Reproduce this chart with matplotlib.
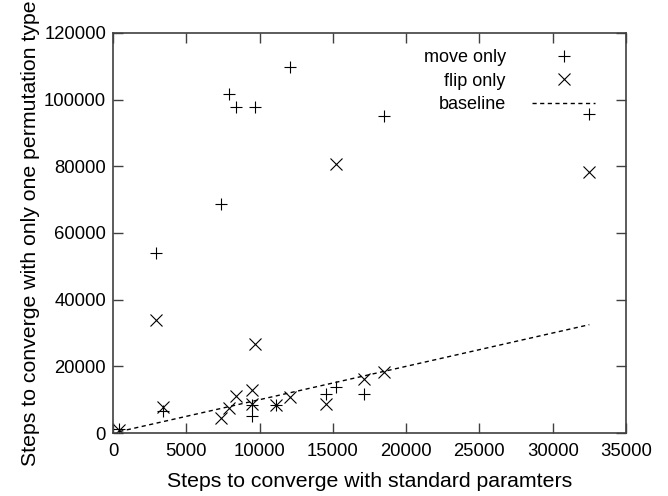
import matplotlib
matplotlib.use("Agg")
import matplotlib.pyplot as plt

# steps with standard parameters (one entry per run)
standard = [430, 2950, 3400, 7400, 7900, 8400, 9500, 9500, 9700, 11100, 12100, 14500, 15200, 17100, 18500, 32500]
move_only = [1100, 54000, 6500, 68600, 101700, 97700, 5100, 8400, 97700, 8400, 109700, 11700, 13900, 11700, 95200, 95600]
flip_only = [1000, 33800, 7900, 4400, 7400, 11200, 12900, 8600, 26800, 8400, 10700, 8700, 80700, 16300, 18200, 78300]
xticks = [0, 5000, 10000, 15000, 20000, 25000, 30000, 35000]
yticks = [0, 20000, 40000, 60000, 80000, 100000, 120000]

plt.rcParams["font.family"] = ["Liberation Sans", "DejaVu Sans"]

fig = plt.figure(figsize=(6.68, 4.96), dpi=100)
ax = fig.add_axes([0.1692, 0.127, 0.7679, 0.8065])

ax.plot(standard, move_only, linestyle="none", marker="+", markersize=8.6,
        markeredgewidth=0.8, color="black", label="move only")
ax.plot(standard, flip_only, linestyle="none", marker="x", markersize=8.6,
        markeredgewidth=0.8, color="black", label="flip only")
base = sorted(standard)
ax.plot([base[0], base[-1]], [base[0], base[-1]], color="black", linewidth=1.0,
        dashes=(3, 2.5), label="baseline")

ax.set_xlim(0, 35000)
ax.set_ylim(0, 120000)
ax.set_xticks(xticks)
ax.set_yticks(yticks)
ax.tick_params(direction="in", length=7, width=1.0, color="#404040", labelsize=13.3,
               top=True, right=True)
ax.tick_params(axis="x", pad=7)
ax.tick_params(axis="y", pad=5)
for s in ax.spines.values():
    s.set_color("#404040")
    s.set_linewidth(1.2)

ax.set_xlabel("Steps to converge with standard paramters", fontsize=15.3, labelpad=9)
ax.set_ylabel("Steps to converge with only one permutation type", fontsize=15.3, labelpad=3)

ax.legend(loc="upper right", bbox_to_anchor=(0.94, 0.96), frameon=False,
          markerfirst=False, fontsize=13, handlelength=3.5, handletextpad=1.45,
          borderpad=0, borderaxespad=0, labelspacing=0.37)

fig.savefig("out.png", dpi=100)
